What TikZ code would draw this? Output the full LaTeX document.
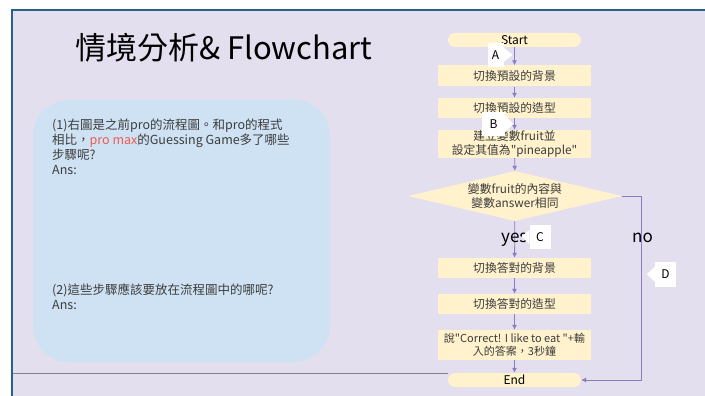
\documentclass[tikz,border=0pt]{standalone}
\usepackage{fontspec}
\setmainfont{Noto Sans CJK TC}[Ligatures=TeXOff]
\usetikzlibrary{shapes.geometric,arrows.meta}
\definecolor{lav}{RGB}{227,223,238}
\definecolor{frame}{RGB}{38,96,140}
\definecolor{qbox}{RGB}{207,226,243}
\definecolor{ybox}{RGB}{255,242,204}
\definecolor{parr}{RGB}{142,124,195}
\definecolor{txt}{RGB}{60,60,60}
\definecolor{promax}{RGB}{240,90,80}
\definecolor{gline}{RGB}{130,128,145}
\tikzset{
  stepbox/.style={draw=none,fill=ybox,minimum width=153pt,inner sep=0pt,align=center,text=txt,font=\fontsize{11.8}{13.5}\selectfont},
  pill/.style={draw=none,fill=ybox,minimum width=133pt,minimum height=14pt,rounded corners=7pt,inner sep=0pt,text=black,font=\fontsize{12}{13}\selectfont},
  arr/.style={draw=parr,line width=0.8pt,-{Latex[length=5pt,width=5pt]}},
  callout/.style={fill=white,draw=none,inner sep=0pt,font=\fontsize{12}{14}\selectfont,text=black},
  lbl/.style={font=\fontsize{17}{19}\selectfont,text=black,inner sep=0pt}
}
\begin{document}
\begin{tikzpicture}[x=1pt,y=-1pt]
\useasboundingbox (0,0) rectangle (705,396);
\fill[white] (0,0) rectangle (705,396);
\fill[lav] (12,10) rectangle (705,396);
\draw[frame,line width=2.5pt] (12,396) -- (12,10) -- (705,10);
\draw[gline,line width=1pt] (13,373) -- (448,373);
% title
\node[anchor=base west,inner sep=0pt,font=\fontsize{31}{34}\selectfont] (title) at (75,60) {情境分析\& Flowchart};
% question box
\fill[qbox,rounded corners=36pt] (33,100) rectangle (330,362);
\node[anchor=north west,inner sep=0pt,align=left,text=txt,font=\fontsize{12.5}{15}\selectfont] (q1) at (52,119)
  {(1)右圖是之前pro的流程圖。和pro的程式\\相比，\textcolor{promax}{pro max}的Guessing Game多了哪些\\步驟呢?\\Ans:};
\node[anchor=north west,inner sep=0pt,align=left,text=txt,font=\fontsize{12.5}{15}\selectfont] (q2) at (52,284)
  {(2)這些步驟應該要放在流程圖中的哪呢?\\Ans:};
% flowchart
\node[pill] (start) at (514.5,40) {Start};
\node[stepbox,minimum height=21pt] (b1) at (514.5,76) {切換預設的背景};
\node[stepbox,minimum height=20pt] (b2) at (514.5,108) {切換預設的造型};
\node[stepbox,minimum height=28pt] (b3) at (514.5,144) {建立變數fruit並\\設定其值為"pineapple"};
\node[diamond,aspect=4.3,fill=ybox,inner sep=0pt,minimum width=214pt,minimum height=50pt,align=center,text=txt,font=\fontsize{11.8}{13.5}\selectfont] (dia) at (515,196) {變數fruit的內容與\\變數answer相同};
\node[stepbox,minimum height=20pt] (b4) at (514.5,268) {切換答對的背景};
\node[stepbox,minimum height=20pt] (b5) at (514.5,304) {切換答對的造型};
\node[stepbox,minimum height=30pt,font=\fontsize{11}{13.5}\selectfont] (b6) at (514.5,345) {說"Correct! I like to eat "+輸\\入的答案，3秒鐘};
\node[pill] (end) at (514.5,380) {End};
\draw[arr] (start) -- (b1);
\draw[arr] (b1) -- (b2);
\draw[arr] (b2) -- (b3);
\draw[arr] (b3) -- (dia);
\draw[arr] (dia) -- (b4);
\draw[arr] (b4) -- (b5);
\draw[arr] (b5) -- (b6);
\draw[arr] (b6) -- (end);
\coordinate (nocorner) at (641,196);
\draw[arr] (dia.east) -- (nocorner) |- (end.east);
\node[lbl,anchor=base west] (yes) at (501,242) {yes};
\node[lbl,anchor=base west] (no) at (632,242) {no};
% callouts
\node[callout,minimum width=16pt,minimum height=24pt] (A) at (495.5,55) {A};
\fill[white] (A.north east) ++(0,5) -- ++(9,7) -- ++(-9,7) -- cycle;
\node[callout,minimum width=23pt,minimum height=24pt] (B) at (493.5,124) {B};
\fill[white] (B.north east) ++(0,4) -- ++(8,8) -- ++(-8,8) -- cycle;
\node[callout,minimum width=21pt,minimum height=24pt] (C) at (540,237) {C};
\fill[white] (C.north west) ++(0,5) -- ++(-8,7) -- ++(8,7) -- cycle;
\node[callout,minimum width=21pt,minimum height=25pt] (D) at (665.5,274.5) {D};
\fill[white] (D.north west) ++(0,5) -- ++(-8,7.5) -- ++(8,7.5) -- cycle;
\end{tikzpicture}
\end{document}
